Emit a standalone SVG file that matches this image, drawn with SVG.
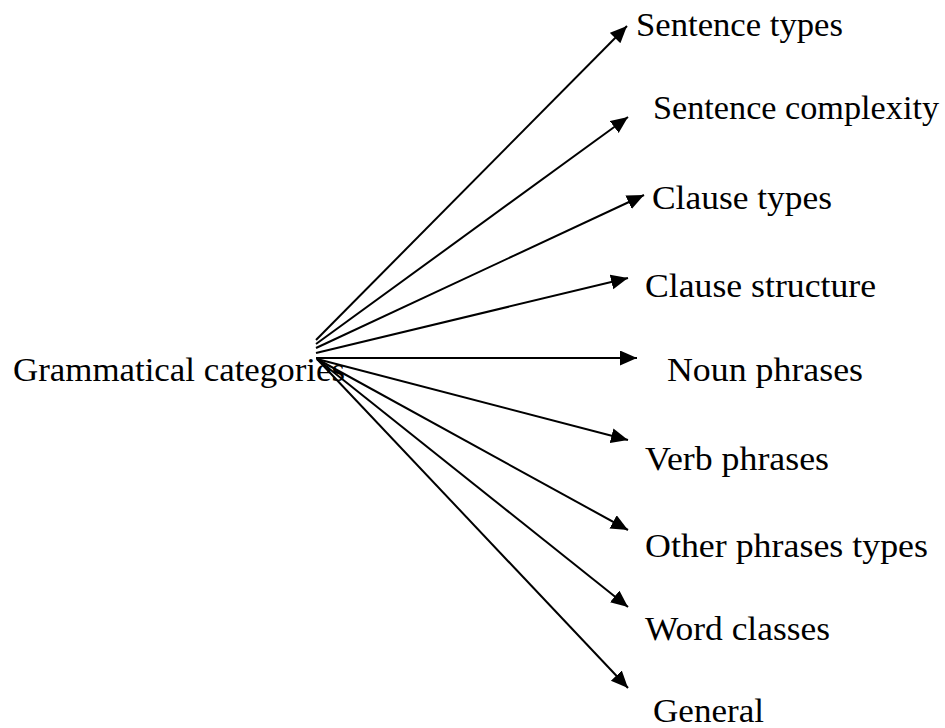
<svg xmlns="http://www.w3.org/2000/svg" width="945" height="728" viewBox="0 0 945 728">
<defs>
<style>
text{font-family:"Liberation Serif","Times New Roman",serif;font-size:34px;fill:#000}
.c line{stroke:#000;stroke-width:2;marker-end:url(#ah)}
</style>
<marker id="ah" markerUnits="userSpaceOnUse" markerWidth="18" markerHeight="16" refX="17" refY="7.5" orient="auto" viewBox="0 0 18 16">
<path d="M0,0 L17,7.5 L0,15 Z" fill="#000"/>
</marker>
</defs>
<rect width="945" height="728" fill="#fff"/>
<g class="c" id="connectors">
<line x1="316" y1="340" x2="627" y2="26"/>
<line x1="316" y1="344" x2="628" y2="117"/>
<line x1="316" y1="348" x2="644" y2="195"/>
<line x1="316" y1="353" x2="628" y2="278"/>
<line x1="316" y1="358" x2="637" y2="358"/>
<line x1="317" y1="359" x2="628" y2="440"/>
<line x1="317" y1="359" x2="628" y2="530"/>
<line x1="317" y1="359" x2="628" y2="607"/>
<line x1="317" y1="359" x2="628" y2="688"/>
</g>
<g id="root"><text x="13" y="381" textLength="332" lengthAdjust="spacingAndGlyphs">Grammatical categories</text></g>
<g id="n1"><text x="636" y="36" textLength="207" lengthAdjust="spacingAndGlyphs">Sentence types</text></g>
<g id="n2"><text x="653" y="119" textLength="286" lengthAdjust="spacingAndGlyphs">Sentence complexity</text></g>
<g id="n3"><text x="652" y="209" textLength="180" lengthAdjust="spacingAndGlyphs">Clause types</text></g>
<g id="n4"><text x="645" y="297" textLength="231" lengthAdjust="spacingAndGlyphs">Clause structure</text></g>
<g id="n5"><text x="667" y="381" textLength="196" lengthAdjust="spacingAndGlyphs">Noun phrases</text></g>
<g id="n6"><text x="645" y="470" textLength="184" lengthAdjust="spacingAndGlyphs">Verb phrases</text></g>
<g id="n7"><text x="645" y="557" textLength="283" lengthAdjust="spacingAndGlyphs">Other phrases types</text></g>
<g id="n8"><text x="645" y="640" textLength="185" lengthAdjust="spacingAndGlyphs">Word classes</text></g>
<g id="n9"><text x="653" y="722" textLength="111" lengthAdjust="spacingAndGlyphs">General</text></g>
</svg>
